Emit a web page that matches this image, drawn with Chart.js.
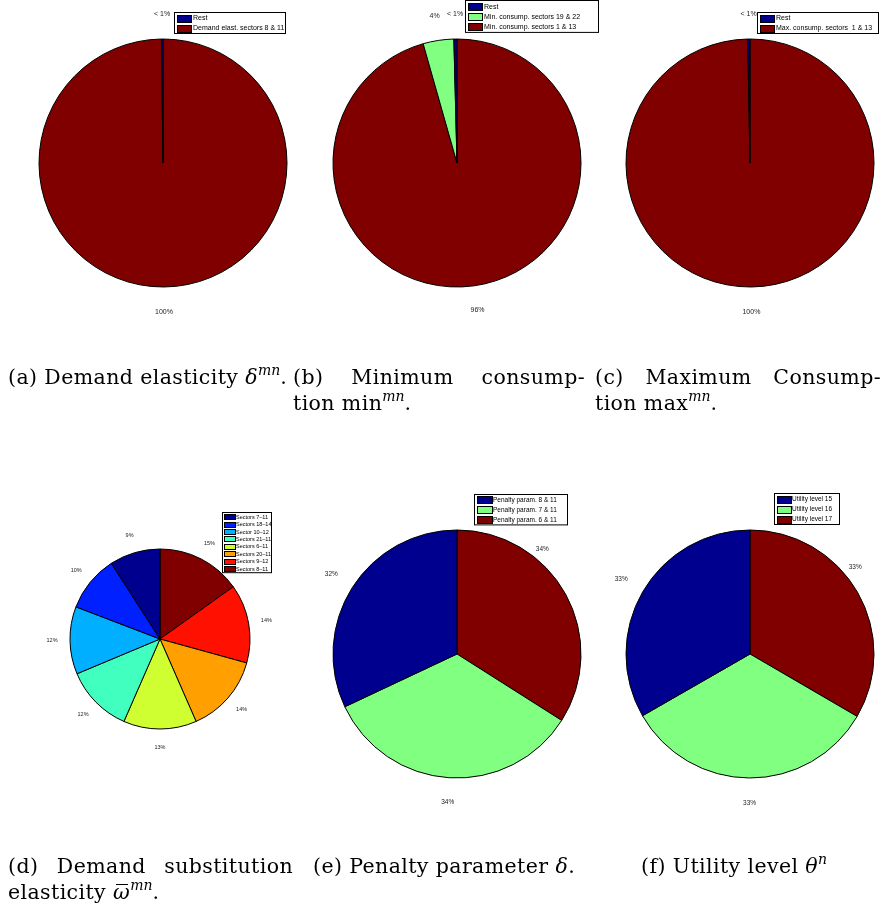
<!DOCTYPE html>
<html>
<head>
<meta charset="utf-8">
<script src="https://cdn.jsdelivr.net/npm/chart.js@4.4.1/dist/chart.umd.min.js"></script>
<style>
  body { margin: 0; background: #fff; width: 881px; height: 911px; position: relative; overflow: hidden; }
  canvas { position: absolute; left: 0; top: 0; }
  .cap { position: absolute; font-family: "DejaVu Serif", "Liberation Serif", serif; font-size: 20.5px; letter-spacing: 0.4px; line-height: 26px; color: #000; white-space: nowrap; }
  .cap .j { text-align: justify; text-align-last: justify; white-space: normal; }
  .cap i { font-style: italic; }
  .cap sup { font-size: 14px; line-height: 0; vertical-align: 9px; letter-spacing: 0; }
  .bar { position: relative; }
  .bar::before { content: ''; position: absolute; left: 3px; right: 2px; top: 4px; border-top: 1px solid #000; }
</style>
</head>
<body>
<canvas id="pie-a" width="881" height="911"></canvas>
<canvas id="pie-b" width="881" height="911"></canvas>
<canvas id="pie-c" width="881" height="911"></canvas>
<canvas id="pie-d" width="881" height="911"></canvas>
<canvas id="pie-e" width="881" height="911"></canvas>
<canvas id="pie-f" width="881" height="911"></canvas>

<div class="cap" style="left:8px; top:364px;">(a) Demand elasticity <i>δ</i><sup><i>mn</i></sup>.</div>
<div class="cap" style="left:293px; top:364px; width:292px;">
  <div class="j">(b) Minimum consump-</div>
  <div>tion min<sup><i>mn</i></sup>.</div>
</div>
<div class="cap" style="left:595px; top:364px; width:286px;">
  <div class="j">(c) Maximum Consump-</div>
  <div>tion max<sup><i>mn</i></sup>.</div>
</div>
<div class="cap" style="left:8px; top:853px; width:285px;">
  <div class="j">(d) Demand substitution</div>
  <div>elasticity <i class="bar">ω</i><sup><i>mn</i></sup>.</div>
</div>
<div class="cap" style="left:313px; top:853px;">(e) Penalty parameter <i>δ</i>.</div>
<div class="cap" style="left:641px; top:853px;">(f) Utility level <i>θ</i><sup><i>n</i></sup></div>

<script>
// ── Data ──────────────────────────────────────────────────────────────────────
const aLabels = ['Rest', 'Demand elast. sectors 8 & 11'];
const aValues = [0.2, 99.8];

const bLabels = ['Rest', 'Min. consump. sectors 19 & 22', 'Min. consump. sectors 1 & 13'];
const bValues = [0.4, 4, 95.6];

const cLabels = ['Rest', 'Max. consump. sectors  1 & 13'];
const cValues = [0.3, 99.7];

const dLabels = ['Sectors 7\u201311', 'Sectors 18\u201314', 'Sector 10\u201312', 'Sectors 21\u201311',
                 'Sectors 6\u201311', 'Sectors 20\u201311', 'Sectors 9\u201312', 'Sectors 8\u201311'];
const dValues = [9, 10, 12, 12, 13, 14, 14, 15];

const eLabels = ['Penalty param. 8 & 11', 'Penalty param. 7 & 11', 'Penalty param. 6 & 11'];
const eValues = [32, 34, 34];

const fLabels = ['Utility level 15', 'Utility level 16', 'Utility level 17'];
const fValues = [33.3, 33.3, 33.4];

// ── Colours (jet) ─────────────────────────────────────────────────────────────
const JET2 = ['#00008f', '#800000'];
const JET3 = ['#00008f', '#80ff80', '#800000'];
const JET8 = ['#00008f', '#0020ff', '#00afff', '#40ffbf', '#cfff30', '#ffa000', '#ff1000', '#800000'];

const FONT = '"Liberation Sans", Arial, Helvetica, sans-serif';

// ── Labels + legend drawn on top of each pie ──────────────────────────────────
const pieDecor = {
  id: 'pieDecor',
  afterDraw(chart, args, o) {
    const ctx  = chart.ctx;
    const meta = chart.getDatasetMeta(0);
    const n    = o.values.length;
    const total = o.values.reduce((a, b) => a + b, 0);
    ctx.save();

    // percentage labels (data is reversed inside the chart, so slice i is arc n-1-i)
    ctx.fillStyle = '#222';
    ctx.font = `${o.pctFont}px ${FONT}`;
    ctx.textAlign = 'center';
    ctx.textBaseline = 'middle';
    o.values.forEach((v, i) => {
      const arc = meta.data[n - 1 - i];
      let t = 0.5, k = 1.2;
      if (o.nudge && o.nudge[i]) { t = o.nudge[i].t; k = o.nudge[i].k; }
      const ang = arc.startAngle + (arc.endAngle - arc.startAngle) * t;
      const pct = v / total * 100;
      const txt = pct < 1 ? '< 1%' : Math.round(pct) + '%';
      ctx.fillText(txt, arc.x + Math.cos(ang) * arc.outerRadius * k,
                        arc.y + Math.sin(ang) * arc.outerRadius * k);
    });

    // legend box
    const L = o.legend;
    const h = n * L.row + 1;
    ctx.fillStyle = '#fff';
    ctx.fillRect(L.x, L.y, L.w, h);
    ctx.strokeStyle = '#000';
    ctx.lineWidth = 1;
    ctx.strokeRect(L.x + 0.5, L.y + 0.5, L.w, h);
    ctx.font = `${L.font}px ${FONT}`;
    ctx.textAlign = 'left';
    o.labels.forEach((s, i) => {
      const cy = L.y + 1 + L.row * (i + 0.5);
      ctx.fillStyle = o.colors[i];
      ctx.fillRect(L.x + L.sx, Math.round(cy - L.sh / 2), L.sw, L.sh);
      ctx.strokeStyle = '#000';
      ctx.strokeRect(L.x + L.sx + 0.5, Math.round(cy - L.sh / 2) + 0.5, L.sw, L.sh);
      ctx.fillStyle = '#000';
      ctx.fillText(s, L.x + L.tx, cy + 0.5);
    });
    ctx.restore();
  }
};

// ── Build one pie ─────────────────────────────────────────────────────────────
function makePie(id, labels, values, colors, cx, cy, r, pctFont, legend, nudge) {
  const W = 881, H = 911;
  return new Chart(document.getElementById(id), {
    type: 'pie',
    data: {
      labels: labels.slice().reverse(),
      datasets: [{
        data: values.slice().reverse(),
        backgroundColor: colors.slice().reverse(),
        borderColor: '#000',
        borderWidth: 1,
        borderAlign: 'center',
      }]
    },
    options: {
      responsive: false,
      animation: false,
      devicePixelRatio: 1,
      events: [],
      layout: { padding: { left: cx - r - 0.5, top: cy - r - 0.5, right: W - cx - r - 0.5, bottom: H - cy - r - 0.5 } },
      plugins: {
        legend: { display: false },
        tooltip: { enabled: false },
        pieDecor: { labels, values, colors, pctFont, legend, nudge },
      }
    },
    plugins: [pieDecor]
  });
}

makePie('pie-a', aLabels, aValues, JET2, 163, 163, 124, 7,
  { x: 174, y: 12, w: 111, row: 10, font: 7, sx: 3, sw: 14, sh: 7, tx: 19 });
makePie('pie-b', bLabels, bValues, JET3, 457, 163, 124, 7,
  { x: 465, y: 0, w: 133, row: 10.3, font: 7, sx: 3, sw: 14, sh: 7, tx: 19 });
makePie('pie-c', cLabels, cValues, JET2, 750, 163, 124, 7,
  { x: 757, y: 12, w: 121, row: 10, font: 7, sx: 3, sw: 14, sh: 7, tx: 19 });
makePie('pie-d', dLabels, dValues, JET8, 160, 639, 90, 5.5,
  { x: 222, y: 512, w: 49, row: 7.4, font: 5.5, sx: 2, sw: 11, sh: 5, tx: 14 });
makePie('pie-e', eLabels, eValues, JET3, 457, 654, 124, 6.5,
  { x: 474, y: 494, w: 93, row: 9.8, font: 6.5, sx: 3, sw: 15, sh: 7, tx: 19 },
  { 2: { t: 0.32, k: 1.09 } });
makePie('pie-f', fLabels, fValues, JET3, 750, 654, 124, 6.5,
  { x: 774, y: 493, w: 65, row: 10, font: 6.5, sx: 3, sw: 14, sh: 7, tx: 18 },
  { 2: { t: 0.42, k: 1.1 } });
</script>
</body>
</html>
